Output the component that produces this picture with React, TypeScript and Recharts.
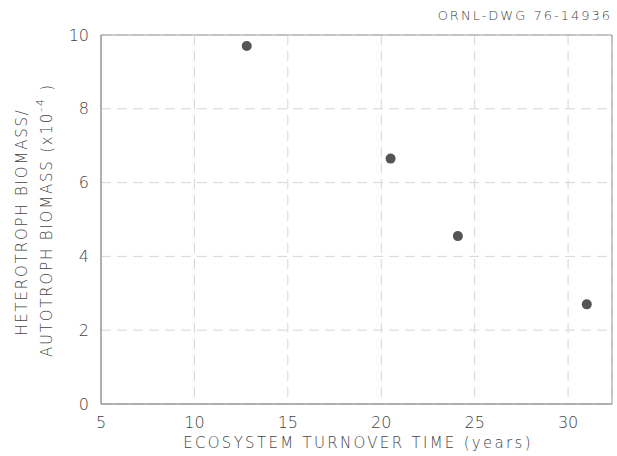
import React from 'react';
import { ScatterChart, Scatter, XAxis, YAxis, CartesianGrid, ReferenceArea } from 'recharts';

const turnoverYears = [12.8, 20.5, 24.1, 31.0];
const biomassRatio = [9.7, 6.65, 4.55, 2.7];
const xTicks = [5, 10, 15, 20, 25, 30];
const yTicks = [0, 2, 4, 6, 8, 10];
const titleText = 'ORNL-DWG 76-14936';
const xLabelText = 'ECOSYSTEM  TURNOVER  TIME  (years)';
const yLabelLine1 = 'HETEROTROPH BIOMASS/';
const yLabelLine2 = 'AUTOTROPH BIOMASS';

const data = turnoverYears.map((x, i) => ({ x, y: biomassRatio[i] }));

const FONT = '"DejaVu Sans", sans-serif';
const TEXT = '#444';
const WEIGHT = 200;

const YLabel = () => (
  <g fill={TEXT} fontFamily={FONT} fontSize={15} fontWeight={WEIGHT} letterSpacing={1.8}>
    <text x={22} y={222} transform="rotate(-90, 22, 222)" textAnchor="middle" dominantBaseline="central">
      {yLabelLine1}
    </text>
    <text x={47} y={220} transform="rotate(-90, 47, 220)" textAnchor="middle" dominantBaseline="central">
      <tspan>{yLabelLine2} (x10</tspan>
      <tspan dy={-7} fontSize={11}>-4</tspan>
      <tspan dy={7}> )</tspan>
    </text>
  </g>
);

const XLabel = () => (
  <text x={358} y={443} fill={TEXT} fontFamily={FONT} fontSize={15} fontWeight={WEIGHT} letterSpacing={2.3} textAnchor="middle" dominantBaseline="central">
    {xLabelText}
  </text>
);

export default function App() {
  return (
    <div style={{ position: 'absolute', left: 0, top: 0, width: 617, height: 456, background: '#fff' }}>
      <div style={{ position: 'absolute', right: 5, top: 8, fontFamily: FONT, fontSize: 13, fontWeight: WEIGHT, letterSpacing: 2, color: TEXT }}>
        {titleText}
      </div>
      <ScatterChart width={617} height={456} margin={{ top: 35, right: 5, left: 0, bottom: 0 }}>
        <CartesianGrid stroke="#d6d6d6" strokeDasharray="10 6" />
        <XAxis
          type="number"
          dataKey="x"
          domain={[5, 32.35]}
          ticks={xTicks}
          height={52}
          tickLine={false}
          tickMargin={7}
          axisLine={{ stroke: '#999' }}
          tick={{ fill: TEXT, fontSize: 16, fontFamily: FONT, fontWeight: WEIGHT }}
          label={<XLabel />}
        />
        <YAxis
          type="number"
          dataKey="y"
          domain={[0, 10]}
          ticks={yTicks}
          width={101}
          tickLine={false}
          tickMargin={6}
          axisLine={{ stroke: '#999' }}
          tick={{ fill: TEXT, fontSize: 16, fontFamily: FONT, fontWeight: WEIGHT }}
          label={<YLabel />}
        />
        <ReferenceArea x1={5} x2={32.35} y1={0} y2={10} fill="none" stroke="#999" strokeWidth={1} ifOverflow="visible" />
        <Scatter
          data={data}
          fill="#555"
          isAnimationActive={false}
          shape={(p: any) => <circle cx={p.cx} cy={p.cy} r={5} fill="#555" />}
        />
      </ScatterChart>
    </div>
  );
}
